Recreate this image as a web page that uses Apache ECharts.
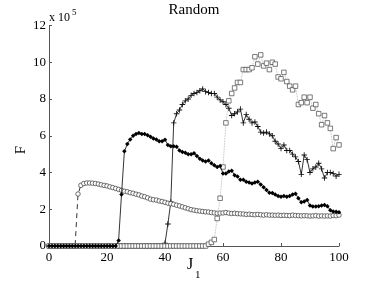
<!DOCTYPE html>
<html><head><meta charset="utf-8">
<script src="https://cdn.jsdelivr.net/npm/echarts@6/dist/echarts.min.js"></script>
<style>html,body{margin:0;padding:0;background:#fff}#c{width:374px;height:282px}</style>
</head><body><div id="c"></div>
<script>
// x values (J_1)
const J = [0,1,2,3,4,5,6,7,8,9,10,11,12,13,14,15,16,17,18,19,20,21,22,23,24,25,26,27,28,29,30,31,32,33,34,35,36,37,38,39,40,41,42,43,44,45,46,47,48,49,50,51,52,53,54,55,56,57,58,59,60,61,62,63,64,65,66,67,68,69,70,71,72,73,74,75,76,77,78,79,80,81,82,83,84,85,86,87,88,89,90,91,92,93,94,95,96,97,98,99,100];
// F in units of 10^5
const circles = [0,0,0,0,0,0,0,0,0,0,
 2.83,3.3,3.4,3.43,3.43,3.42,3.4,3.37,3.33,3.3,
 3.27,3.22,3.18,3.13,3.08,3.03,2.98,2.95,2.9,2.87,
 2.82,2.78,2.72,2.68,2.62,2.55,2.52,2.5,2.45,2.42,
 2.38,2.33,2.3,2.27,2.22,2.18,2.13,2.08,2.03,1.98,
 1.95,1.92,1.9,1.88,1.86,1.85,1.82,1.8,1.78,1.79,
 1.8,1.82,1.79,1.77,1.78,1.76,1.75,1.74,1.72,1.73,
 1.71,1.7,1.72,1.7,1.68,1.7,1.68,1.68,1.67,1.68,
 1.66,1.67,1.66,1.65,1.68,1.66,1.65,1.64,1.65,1.64,
 1.63,1.64,1.65,1.63,1.64,1.63,1.64,1.63,1.66,1.65,
 1.68];
const diamonds = [0,0,0,0,0,0,0,0,0,0,0,0,0,0,0,0,0,0,0,0,0,0,0,0,
 0.3,2.8,5.15,5.55,5.8,6.0,
 6.1,6.15,6.1,6.1,6.03,5.95,5.85,5.8,5.7,5.7,
 5.78,5.5,5.43,5.43,5.4,5.2,5.12,5.07,5.0,5.0,
 5.05,4.9,4.75,4.65,4.6,4.65,4.5,4.4,4.3,4.35,
 3.95,3.95,4.05,4.1,3.85,3.78,3.6,3.6,3.5,3.45,
 3.4,3.45,3.5,3.35,3.2,3.05,2.9,2.88,2.8,2.72,
 2.68,2.72,2.68,2.72,2.8,2.85,2.6,2.38,2.42,2.5,
 2.2,2.15,2.15,2.17,2.2,2.23,2.17,1.95,1.88,1.86,
 1.84];
const pluses = [0,0,0,0,0,0,0,0,0,0,0,0,0,0,0,0,0,0,0,0,0,0,0,0,0,0,0,0,0,0,0,0,0,0,0,0,0,0,0,0,
 0.15,1.2,2.4,6.7,7.2,7.4,7.7,7.9,8.0,8.2,
 8.3,8.35,8.45,8.55,8.4,8.35,8.3,8.3,8.1,7.95,
 7.85,7.7,7.5,7.1,7.2,7.3,7.45,6.7,7.15,6.9,
 6.7,6.75,6.5,6.2,6.15,6.2,6.1,6.0,5.7,5.55,
 5.3,5.5,5.2,5.2,5.0,4.85,4.6,3.9,4.95,4.7,
 4.0,4.2,4.3,4.5,4.2,3.7,4.0,4.0,3.95,3.8,
 3.9];
const squares = [0,0,0,0,0,0,0,0,0,0,0,0,0,0,0,0,0,0,0,0,0,0,0,0,0,0,0,0,0,0,0,0,0,0,0,0,0,0,0,0,0,0,0,0,0,0,0,0,0,0,0,0,0,0,0,
 0.1,0.2,0.35,1.5,2.6,
 4.3,6.7,7.9,8.3,8.6,8.9,8.9,9.6,9.6,9.6,
 9.7,10.3,9.9,10.4,9.8,9.95,9.6,10.0,9.9,9.2,
 9.1,9.45,8.95,8.7,8.5,8.7,7.7,7.8,8.1,7.8,
 8.1,7.5,7.7,7.2,6.6,7.1,6.7,6.4,5.3,5.9,
 5.5];
const xTicks = [0,20,40,60,80,100];
const yTicks = [0,2,4,6,8,10,12];

const FONT = '"Liberation Serif","Times New Roman",serif';
const pts = arr => J.map((j,i)=>[j, arr[i]]);
const chart = echarts.init(document.getElementById('c'), null, {renderer:'canvas'});
const axisCol = '#555';
chart.setOption({
  animation:false,
  backgroundColor:'#fff',
  grid:{left:49, right:35, top:25.5, bottom:36, containLabel:false},
  xAxis:{type:'value', min:xTicks[0], max:xTicks[xTicks.length-1], interval:20,
    axisLine:{show:true, onZero:false, lineStyle:{color:axisCol, width:1}},
    axisTick:{show:true, inside:true, length:3, lineStyle:{color:axisCol}},
    axisLabel:{fontFamily:FONT, fontSize:13, color:'#000', margin:5},
    splitLine:{show:false}},
  yAxis:{type:'value', min:yTicks[0], max:yTicks[yTicks.length-1], interval:2,
    axisLine:{show:true, onZero:false, lineStyle:{color:axisCol, width:1}},
    axisTick:{show:true, inside:true, length:3, lineStyle:{color:axisCol}},
    axisLabel:{fontFamily:FONT, fontSize:13, color:'#000', margin:3},
    splitLine:{show:false}},
  series:[
    {type:'line', data:pts(pluses), symbol:'path://M4.2,0H5.8V4.2H10V5.8H5.8V10H4.2V5.8H0V4.2H4.2Z', symbolSize:5.5, showAllSymbol:true,
      itemStyle:{color:'#111'}, lineStyle:{color:'#000', width:0.8}, z:2, emphasis:{disabled:true}},
    {type:'line', data:pts(circles), symbol:'circle', symbolSize:4.5, showAllSymbol:true,
      itemStyle:{color:'#fff', borderColor:'#333', borderWidth:0.7}, lineStyle:{color:'#000', width:0.8, type:[5,4]}, z:3, emphasis:{disabled:true}},
    {type:'line', data:pts(squares), symbol:'rect', symbolSize:4.5, showAllSymbol:true,
      itemStyle:{color:'#fff', borderColor:'#444', borderWidth:0.7}, lineStyle:{color:'#aaa', width:0.8, type:'dotted'}, z:4, emphasis:{disabled:true}},
    {type:'line', data:pts(diamonds), symbol:'diamond', symbolSize:4.5, showAllSymbol:true,
      itemStyle:{color:'#000'}, lineStyle:{color:'#000', width:0.8}, z:5, emphasis:{disabled:true}}
  ],
  graphic:[
    {type:'text', x:194, y:10, style:{text:'Random', font:'15px '+FONT, fill:'#000', align:'center', verticalAlign:'middle', textAlign:'center', textVerticalAlign:'middle'}},
    {type:'text', x:49, y:18, style:{text:'x 10', font:'12px '+FONT, fill:'#000', align:'left', verticalAlign:'middle', textAlign:'left', textVerticalAlign:'middle'}},
    {type:'text', x:72, y:12.5, style:{text:'5', font:'9px '+FONT, fill:'#000', align:'left', verticalAlign:'middle', textAlign:'left', textVerticalAlign:'middle'}},
    {type:'text', x:21, y:150, rotation:Math.PI/2, style:{text:'F', font:'15px '+FONT, fill:'#000', align:'center', verticalAlign:'middle', textAlign:'center', textVerticalAlign:'middle'}},
    {type:'text', x:190, y:265, style:{text:'J', font:'16px '+FONT, fill:'#000', align:'center', verticalAlign:'middle', textAlign:'center', textVerticalAlign:'middle'}},
    {type:'text', x:195, y:275, style:{text:'1', font:'11px '+FONT, fill:'#000', align:'left', verticalAlign:'middle', textAlign:'left', textVerticalAlign:'middle'}}
  ]
});
</script></body></html>
